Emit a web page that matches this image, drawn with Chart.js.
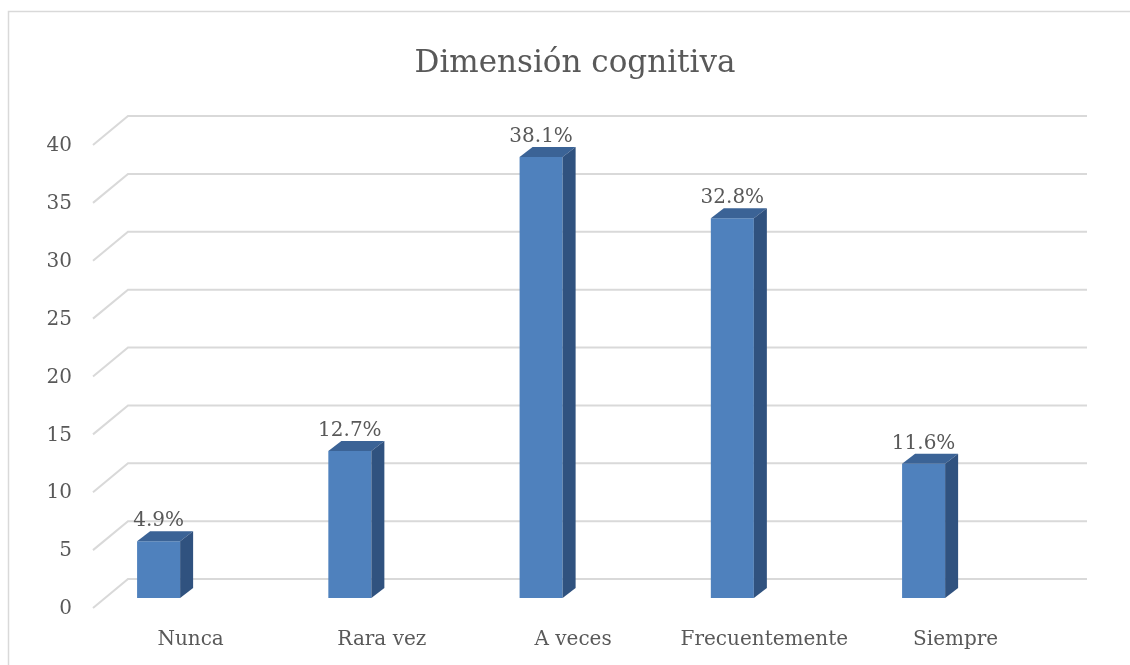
<!DOCTYPE html>
<html>
<head>
<meta charset="utf-8">
<script src="https://cdn.jsdelivr.net/npm/chart.js@4"></script>
<style>
  body { margin: 0; background: #fff; }
  #box { width: 1130px; height: 665px; position: relative; }
</style>
</head>
<body>
<div id="box"><canvas id="grafica" width="1130" height="665"></canvas></div>
<script>
// datos
const categorias = ["Nunca", "Rara vez", "A veces", "Frecuentemente", "Siempre"];
const porcentajes = [4.9, 12.7, 38.1, 32.8, 11.6];
const yMin = 0;
const yMax = 40;
const paso = 5;

const fuente = "'DejaVu Serif', 'Liberation Serif', serif";
const gris = "#595959";
const lineaGris = "#d9d9d9";

// profundidad de las barras
const profX = 13, profY = 10;

let plugin3D = {
    id: "plugin3D",
    beforeDraw(chart){
        let ctx = chart.ctx;
        ctx.save();
        ctx.fillStyle = "#fff";
        ctx.fillRect(0, 0, chart.width, chart.height);
        ctx.strokeStyle = lineaGris;
        ctx.lineWidth = 1.5;
        ctx.strokeRect(8.5, 11.5, chart.width + 20, chart.height + 20);
        ctx.restore();
    },
    beforeDatasetsDraw(chart){
        // pared del fondo y diagonales del piso
        let ctx = chart.ctx;
        let area = chart.chartArea;
        let ys = chart.scales.y;
        let xFrente = area.left - 65.6;
        let xPared = area.left - 30.6;
        let xFin = area.right + 163.4;
        ctx.save();
        ctx.strokeStyle = lineaGris;
        ctx.lineWidth = 2;
        for (let v = yMin; v <= yMax; v += paso){
            let py = ys.getPixelForValue(v);
            ctx.beginPath();
            ctx.moveTo(xFrente, py + 10);
            ctx.lineTo(xPared, py - 19);
            ctx.lineTo(xFin, py - 19);
            ctx.stroke();
        }
        ctx.restore();
    },
    afterDatasetsDraw(chart){
        let ctx = chart.ctx;
        let meta = chart.getDatasetMeta(0);
        ctx.save();
        meta.data.forEach((bar, i) => {
            let izq = bar.x - bar.width / 2;
            let der = bar.x + bar.width / 2;
            let arriba = bar.y;
            let base = bar.base;
            // cara superior
            ctx.fillStyle = "#3b6396";
            ctx.beginPath();
            ctx.moveTo(izq, arriba);
            ctx.lineTo(izq + profX, arriba - profY);
            ctx.lineTo(der + profX, arriba - profY);
            ctx.lineTo(der, arriba);
            ctx.closePath();
            ctx.fill();
            // cara lateral
            ctx.fillStyle = "#30527f";
            ctx.beginPath();
            ctx.moveTo(der, arriba);
            ctx.lineTo(der + profX, arriba - profY);
            ctx.lineTo(der + profX, base - profY);
            ctx.lineTo(der, base);
            ctx.closePath();
            ctx.fill();
            // etiqueta
            ctx.fillStyle = gris;
            ctx.font = "20px " + fuente;
            ctx.textAlign = "center";
            ctx.textBaseline = "alphabetic";
            ctx.fillText(porcentajes[i].toFixed(1) + "%", bar.x, arriba - 15);
        });
        ctx.restore();
    }
};

new Chart(document.getElementById("grafica"), {
    type: "bar",
    data: {
        labels: categorias,
        datasets: [{
            label: "Dimensión cognitiva",
            data: porcentajes,
            backgroundColor: "#4f81bd",
            borderWidth: 0,
            categoryPercentage: 1,
            barPercentage: 0.225,
            clip: false
        }]
    },
    options: {
        responsive: false,
        animation: false,
        layout: { padding: { top: 26, right: 0, bottom: 0, left: 20 } },
        plugins: {
            legend: { display: false },
            tooltip: { enabled: false },
            title: {
                display: true,
                text: "Dimensión cognitiva",
                color: gris,
                font: { family: fuente, size: 31, weight: "normal", lineHeight: 1.2 },
                padding: { top: 19, bottom: 52.8 }
            }
        },
        scales: {
            x: {
                offset: false,
                grid: { display: false, drawTicks: false },
                border: { display: false },
                ticks: {
                    color: gris,
                    font: { family: fuente, size: 20 },
                    labelOffset: 32,
                    padding: 30,
                    maxRotation: 0,
                    autoSkip: false
                },
                afterFit(scale){ scale.height = 67; }
            },
            y: {
                min: yMin,
                max: yMax,
                grid: { display: false, drawTicks: false },
                border: { display: false },
                ticks: {
                    stepSize: paso,
                    color: gris,
                    font: { family: fuente, size: 20 },
                    labelOffset: 11,
                    padding: 86.6
                },
                afterFit(scale){
                    scale.width = 138.6;
                    scale.paddingTop = 0;
                    scale.paddingBottom = 0;
                }
            },
            y2: {
                position: "right",
                grid: { display: false, drawTicks: false },
                border: { display: false },
                ticks: { display: false },
                afterFit(scale){ scale.width = 206.4; }
            }
        }
    },
    plugins: [plugin3D]
});
</script>
</body>
</html>
